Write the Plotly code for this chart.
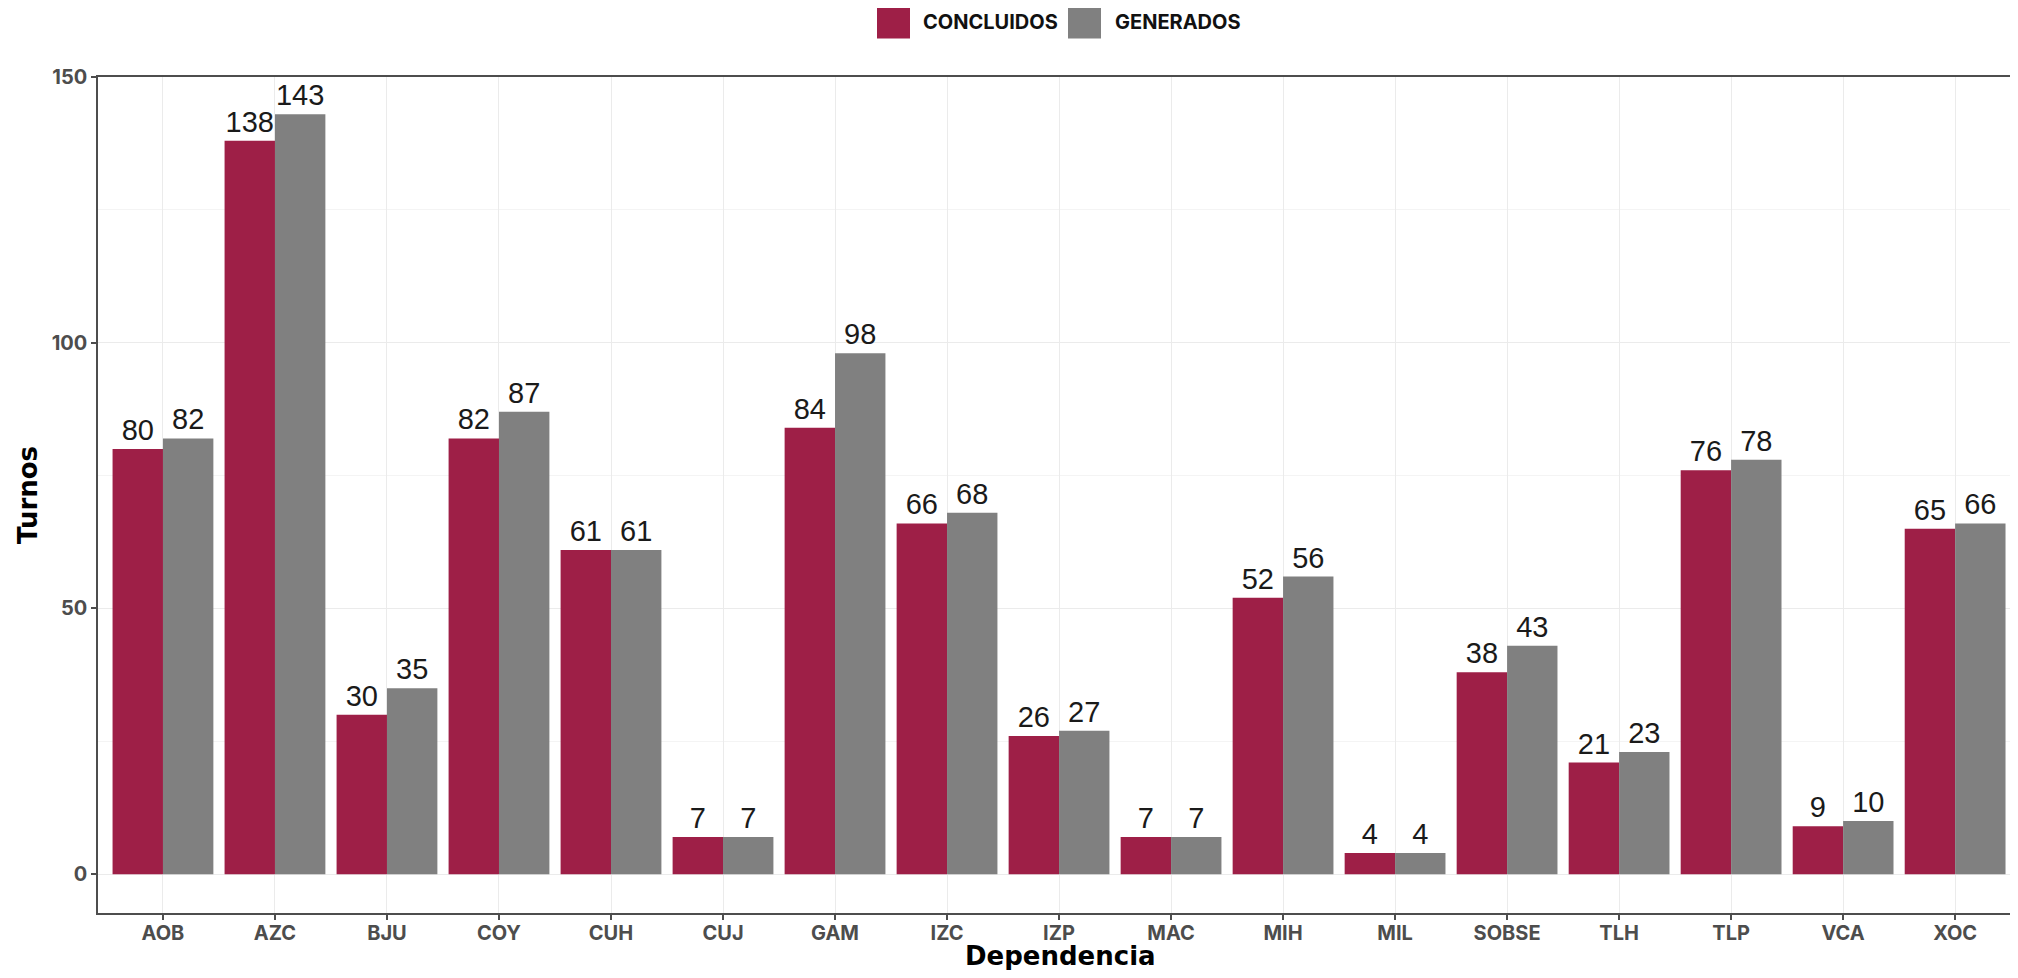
import plotly.graph_objects as go

categories = ["AOB", "AZC", "BJU", "COY", "CUH", "CUJ", "GAM", "IZC", "IZP", "MAC",
              "MIH", "MIL", "SOBSE", "TLH", "TLP", "VCA", "XOC"]
concluidos = [80, 138, 30, 82, 61, 7, 84, 66, 26, 7, 52, 4, 38, 21, 76, 9, 65]
generados = [82, 143, 35, 87, 61, 7, 98, 68, 27, 7, 56, 4, 43, 23, 78, 10, 66]

series_names = ["CONCLUIDOS", "GENERADOS"]
colors = ["#9E1F47", "#808080"]

FONT = "Inter, sans-serif"
TITLE_FONT = "DejaVu Sans, sans-serif"
label_font = dict(family="Liberation Sans, Arial, sans-serif", size=29, color="#1A1A1A")

fig = go.Figure()
for name, vals, col in zip(series_names, [concluidos, generados], colors):
    fig.add_trace(go.Bar(
        x=categories, y=vals, name=name, marker=dict(color=col, line=dict(width=0)),
        text=[str(v) for v in vals], textposition="outside", textfont=label_font,
        cliponaxis=False, showlegend=False,
    ))

# layout geometry (page has an 8px body margin)
W, H = 2002, 962
L, T, B, R = 90, 69, 57, 0
pw, ph = W - L - R, H - T - B
def px_x(page_x):
    return (page_x - 8 - L) / pw
def px_y(page_y):
    return 1 + (T - (page_y - 8)) / ph

# legend drawn as square swatches + labels above the plot
legend_y = px_y(22)
swatch_x = [893.5, 1084.5]
label_x = [921, 1113]
for name, col, sx, lx in zip(series_names, colors, swatch_x, label_x):
    fig.add_shape(type="rect", xref="paper", yref="paper",
                  xsizemode="pixel", ysizemode="pixel",
                  xanchor=px_x(sx), yanchor=legend_y,
                  x0=-16.5, x1=16.5, y0=-16.5, y1=16.5,
                  fillcolor=col, line=dict(width=0))
    fig.add_annotation(xref="paper", yref="paper", x=px_x(lx), y=legend_y,
                       xanchor="left", yanchor="middle", showarrow=False, text=name,
                       font=dict(family=FONT, size=20, color="#111111", weight="bold"))

# axis titles
fig.add_annotation(xref="paper", yref="paper", x=px_x(1060), y=px_y(956),
                   xanchor="center", yanchor="middle", showarrow=False, text="Dependencia",
                   font=dict(family=TITLE_FONT, size=26, color="#000000", weight="bold"))
fig.add_annotation(xref="paper", yref="paper", x=px_x(28), y=px_y(495),
                   xanchor="center", yanchor="middle", showarrow=False, text="Turnos",
                   textangle=-90,
                   font=dict(family=TITLE_FONT, size=26, color="#000000", weight="bold"))

fig.update_layout(
    width=W, height=H,
    margin=dict(l=L, r=R, t=T, b=B),
    paper_bgcolor="white", plot_bgcolor="white",
    barmode="group", bargap=0.1, bargroupgap=0,
    showlegend=False,
)

fig.update_xaxes(
    type="category", range=[-0.58, 16.49], automargin=False,
    showline=True, linecolor="#4D4D4D", linewidth=1.5, mirror=True,
    showgrid=True, gridcolor="#EBEBEB", gridwidth=1.2,
    ticks="outside", ticklen=5, tickcolor="#4D4D4D", tickwidth=1.5,
    ticklabelstandoff=-4,
    tickfont=dict(family=FONT, size=20, color="#4D4D4D", weight="bold"),
)
fig.update_yaxes(
    range=[-7.3, 150], tickvals=[0, 50, 100, 150], automargin=False,
    showline=True, linecolor="#4D4D4D", linewidth=1.5,
    showgrid=True, gridcolor="#EBEBEB", gridwidth=1.2, zeroline=False,
    minor=dict(tickvals=[25, 75, 125], showgrid=True, gridcolor="#F4F4F4", gridwidth=1),
    ticks="outside", ticklen=5, tickcolor="#4D4D4D", tickwidth=1.5,
    tickfont=dict(family=FONT, size=20, color="#4D4D4D", weight="bold"),
)

fig.write_html("out.html")
